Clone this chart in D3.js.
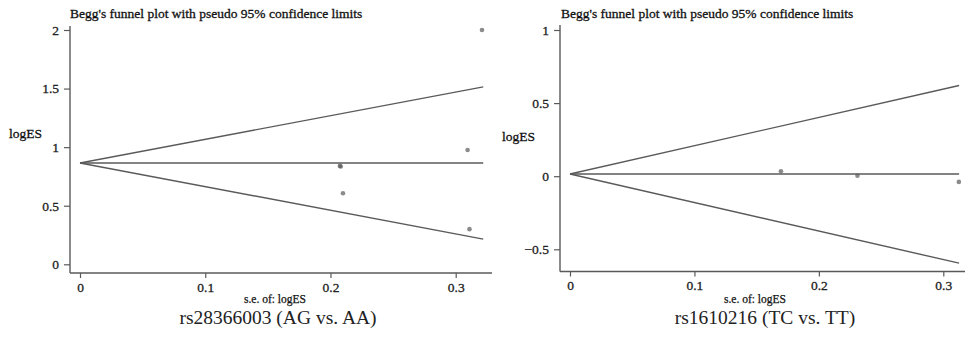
<!DOCTYPE html>
<html><head><meta charset="utf-8">
<script src="https://cdn.jsdelivr.net/npm/d3@7"></script>
<style>body{margin:0;background:#fff}svg{display:block}</style>
</head><body>
<svg id="c" width="965" height="338"></svg>
<script>
// ---- text ----
const titleText = "Begg's funnel plot with pseudo 95% confidence limits";
const xLabelText = "s.e. of: logES";
const yLabelText = "logES";

// ---- left panel data ----
const leftCaption = "rs28366003 (AG vs. AA)";
const leftXTicks = [0, 0.1, 0.2, 0.3];
const leftYTicks = [0, 0.5, 1, 1.5, 2];
const leftSE     = [0.2075, 0.2082, 0.210, 0.3095, 0.311, 0.321];
const leftLogES  = [0.840, 0.835, 0.606, 0.976, 0.300, 2.000];
const leftPooled = 0.865;
const leftSEMax  = 0.322;
const leftUpperEnd = 1.515;
const leftLowerEnd = 0.215;

// ---- right panel data ----
const rightCaption = "rs1610216 (TC vs. TT)";
const rightXTicks = [0, 0.1, 0.2, 0.3];
const rightYTicks = [-0.5, 0, 0.5, 1];
const rightSE     = [0.1695, 0.231, 0.3125];
const rightLogES  = [0.034, 0.003, -0.039];
const rightPooled = 0.015;
const rightSEMax  = 0.3127;
const rightUpperEnd = 0.620;
const rightLowerEnd = -0.595;

const panels = [
  {caption: leftCaption, xTicks: leftXTicks, yTicks: leftYTicks, se: leftSE, es: leftLogES,
   pooled: leftPooled, seMax: leftSEMax, up: leftUpperEnd, lo: leftLowerEnd,
   xDom: [0, 0.3], xRange: [80, 455.7], yDom: [0, 2], yRange: [264.3, 30],
   axisX: 70, axisY: 273, axisTop: 26, axisRight: 492,
   yLabX: 9, yLabY: 138, titleX: 70, xLabX: 275, capX: 278},
  {caption: rightCaption, xTicks: rightXTicks, yTicks: rightYTicks, se: rightSE, es: rightLogES,
   pooled: rightPooled, seMax: rightSEMax, up: rightUpperEnd, lo: rightLowerEnd,
   xDom: [0, 0.3], xRange: [570, 943.3], yDom: [-0.5, 1], yRange: [249.3, 30],
   axisX: 560, axisY: 271.5, axisTop: 25, axisRight: 965,
   yLabX: 502, yLabY: 141, titleX: 561, xLabX: 755, capX: 765}
];

const svg = d3.select("#c");
const FONT = "'Liberation Serif','Times New Roman',serif";
const LINE = "#5a5a5a";

panels.forEach(p => {
  const x = d3.scaleLinear().domain(p.xDom).range(p.xRange);
  const y = d3.scaleLinear().domain(p.yDom).range(p.yRange);
  const g = svg.append("g");

  // title
  g.append("text").attr("x", p.titleX).attr("y", 18)
    .attr("font-family", FONT).attr("font-size", 13.5).attr("fill", "#111")
    .attr("stroke", "#111").attr("stroke-width", 0.3)
    .text(titleText);

  // y axis
  const ya = d3.axisLeft(y).tickValues(p.yTicks).tickFormat(d3.format("")).tickSize(6).tickSizeOuter(0).tickPadding(5);
  const yg = g.append("g").attr("transform", `translate(${p.axisX},0)`).call(ya);
  yg.select(".domain").remove();
  yg.append("line").attr("x1", 0).attr("x2", 0)
    .attr("y1", p.axisTop).attr("y2", p.axisY).attr("stroke", LINE).attr("stroke-width", 1.4);
  yg.selectAll(".tick line").attr("stroke", LINE).attr("stroke-width", 1.2);
  yg.selectAll(".tick text").attr("font-family", FONT).attr("font-size", 13.5).attr("fill", "#222")
    .attr("stroke", "#222").attr("stroke-width", 0.3);

  // x axis
  const xa = d3.axisBottom(x).tickValues(p.xTicks).tickFormat(d3.format("")).tickSize(5).tickSizeOuter(0).tickPadding(4);
  const xg = g.append("g").attr("transform", `translate(0,${p.axisY})`).call(xa);
  xg.select(".domain").remove();
  xg.append("line").attr("x1", p.axisX).attr("x2", p.axisRight)
    .attr("y1", 0).attr("y2", 0).attr("stroke", LINE).attr("stroke-width", 1.4);
  xg.selectAll(".tick line").attr("stroke", LINE).attr("stroke-width", 1.2);
  xg.selectAll(".tick text").attr("font-family", FONT).attr("font-size", 13.5).attr("fill", "#222")
    .attr("stroke", "#222").attr("stroke-width", 0.3);

  // axis titles
  g.append("text").attr("x", p.yLabX).attr("y", p.yLabY)
    .attr("font-family", FONT).attr("font-size", 13.5).attr("fill", "#111")
    .attr("stroke", "#111").attr("stroke-width", 0.3).text(yLabelText);
  g.append("text").attr("x", p.xLabX).attr("y", 303).attr("text-anchor", "middle")
    .attr("font-family", FONT).attr("font-size", 11.5).attr("fill", "#111")
    .attr("stroke", "#111").attr("stroke-width", 0.25).text(xLabelText);

  // caption
  g.append("text").attr("x", p.capX).attr("y", 324).attr("text-anchor", "middle")
    .attr("font-family", FONT).attr("font-size", 19.5).attr("fill", "#222").text(p.caption);

  // funnel lines
  const lines = [
    [[0, p.pooled], [p.seMax, p.pooled]],
    [[0, p.pooled], [p.seMax, p.up]],
    [[0, p.pooled], [p.seMax, p.lo]]
  ];
  const lg = d3.line().x(d => x(d[0])).y(d => y(d[1]));
  g.selectAll("path.funnel").data(lines).join("path").attr("class", "funnel")
    .attr("d", lg).attr("fill", "none").attr("stroke", LINE).attr("stroke-width", 1.4);

  // points
  const pts = p.se.map((s, i) => ({se: s, es: p.es[i]}));
  g.selectAll("circle.pt").data(pts).join("circle").attr("class", "pt")
    .attr("cx", d => x(d.se)).attr("cy", d => y(d.es)).attr("r", 2.3)
    .attr("fill", "#5a5a5a").attr("fill-opacity", 0.7);
});
</script>
</body></html>
